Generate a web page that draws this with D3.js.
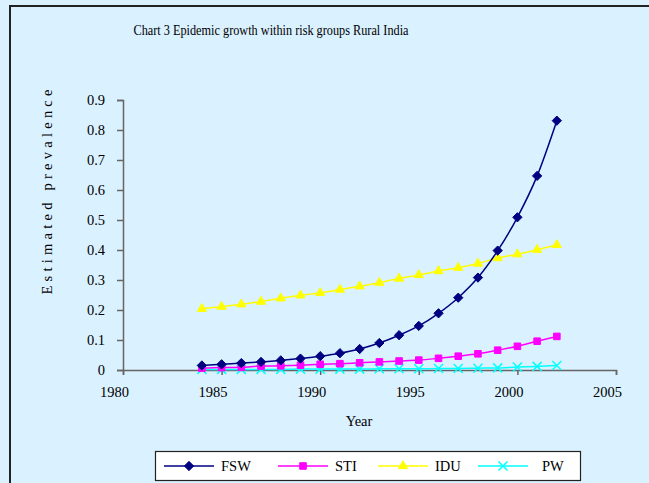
<!DOCTYPE html>
<html>
<head>
<meta charset="utf-8">
<script src="https://cdn.jsdelivr.net/npm/d3@7"></script>
<style>
  body { margin: 0; background: #daf1ff; }
  svg { display: block; }
  svg text { font-family: "Liberation Serif", "Times New Roman", serif !important; fill: #000; }
</style>
</head>
<body>
<div id="chart"></div>
<script>
var years = d3.range(1984, 2003);
var fsw = [0.015, 0.019, 0.023, 0.027, 0.032, 0.038, 0.046, 0.056, 0.07, 0.09, 0.116, 0.147, 0.189, 0.241, 0.308, 0.398, 0.509, 0.647, 0.831];
var sti = [0.006, 0.008, 0.009, 0.013, 0.014, 0.016, 0.019, 0.021, 0.024, 0.027, 0.03, 0.033, 0.039, 0.046, 0.054, 0.066, 0.079, 0.096, 0.112];
var idu = [0.204, 0.211, 0.219, 0.228, 0.239, 0.249, 0.257, 0.268, 0.279, 0.291, 0.305, 0.317, 0.33, 0.341, 0.355, 0.373, 0.386, 0.401, 0.417];
var pw = [0.002, 0.002, 0.002, 0.002, 0.002, 0.003, 0.003, 0.003, 0.003, 0.004, 0.004, 0.004, 0.005, 0.005, 0.006, 0.007, 0.01, 0.012, 0.015];
var seriesNames = ["FSW", "STI", "IDU", "PW"];
var xTicks = [1980, 1985, 1990, 1995, 2000, 2005];
var yTicks = [0, 0.1, 0.2, 0.3, 0.4, 0.5, 0.6, 0.7, 0.8, 0.9];

var width = 649,
    height = 483;

var series = [
  { name: seriesNames[0], values: fsw, color: "#000080", symbol: "diamond" },
  { name: seriesNames[1], values: sti, color: "#ff00ff", symbol: "square" },
  { name: seriesNames[2], values: idu, color: "#ffff00", symbol: "triangle" },
  { name: seriesNames[3], values: pw, color: "#00ffff", symbol: "cross" }
];

var svg = d3.select("#chart")
  .append("svg")
  .attr("width", width)
  .attr("height", height);

// outer chart frame (cut off at right and bottom)
svg.append("rect")
  .attr("x", 10).attr("y", 6)
  .attr("width", width + 10).attr("height", height + 10)
  .attr("fill", "#daf1ff")
  .attr("stroke", "#222")
  .attr("stroke-width", 2);

svg.append("text")
  .attr("x", 271).attr("y", 35)
  .attr("text-anchor", "middle")
  .attr("font-size", 14.5)
  .attr("textLength", 275)
  .attr("lengthAdjust", "spacingAndGlyphs")
  .text("Chart 3 Epidemic growth within risk groups Rural India");

var x = d3.scaleLinear().domain([1980, 2005]).range([123, 616]);
var y = d3.scaleLinear().domain([0, 0.9]).range([370, 100]);

var axisColor = "#666";

var yAxis = svg.append("g")
  .attr("transform", "translate(123,0)")
  .call(d3.axisLeft(y).tickValues(yTicks).tickSize(6).tickPadding(12)
    .tickFormat(function(d) { return d === 0 ? "0" : d3.format(".1f")(d); }));

var xAxis = svg.append("g")
  .attr("transform", "translate(0,370)")
  .call(d3.axisBottom(x).tickValues(xTicks).tickSize(5).tickPadding(12)
    .tickFormat(d3.format("d")));

[xAxis, yAxis].forEach(function(a) {
  a.attr("font-family", null).attr("font-size", null);
  a.select(".domain").attr("stroke", axisColor).attr("stroke-width", 1.5);
  a.selectAll(".tick line").attr("stroke", axisColor).attr("stroke-width", 1.5);
  a.selectAll(".tick text")
    .style("font-size", "14.5px")
    .attr("fill", "#000");
});
xAxis.selectAll(".tick text").attr("dx", -9);

svg.append("text")
  .attr("x", 359).attr("y", 426)
  .attr("text-anchor", "middle")
  .style("font-size", "14.5px")
  .text("Year");

svg.append("text")
  .attr("transform", "translate(52,192) rotate(-90)")
  .attr("text-anchor", "middle")
  .style("font-size", "14.5px")
  .attr("textLength", 205)
  .attr("lengthAdjust", "spacing")
  .text("Estimated prevalence");

function marker(sel, s) {
  if (s.symbol === "cross") {
    sel.append("path")
      .attr("d", "M-4.5,-4.5L4.5,4.5M-4.5,4.5L4.5,-4.5")
      .attr("stroke", s.color)
      .attr("stroke-width", 1.5)
      .attr("fill", "none");
  } else {
    var type = s.symbol === "diamond" ? d3.symbolDiamond2 :
               s.symbol === "square" ? d3.symbolSquare2 : d3.symbolTriangle2;
    var size = s.symbol === "triangle" ? 60 : 55;
    sel.append("path")
      .attr("d", d3.symbol().type(type).size(size)())
      .attr("fill", s.color)
      .attr("stroke", s.color)
      .attr("stroke-width", 1);
  }
}

var line = d3.line()
  .x(function(d, i) { return x(years[i]); })
  .y(function(d) { return y(d); })
  .curve(d3.curveCatmullRom.alpha(0));

// draw in reverse so FSW lies on top
series.slice().reverse().forEach(function(s) {
  svg.append("path")
    .attr("d", line(s.values))
    .attr("fill", "none")
    .attr("stroke", s.color)
    .attr("stroke-width", 1.5);

  svg.selectAll(null)
    .data(s.values)
    .enter()
    .append("g")
    .attr("transform", function(d, i) { return "translate(" + x(years[i]) + "," + y(d) + ")"; })
    .each(function() { marker(d3.select(this), s); });
});

// legend
var legend = svg.append("g");
legend.append("rect")
  .attr("x", 155.5).attr("y", 451.5)
  .attr("width", 425).attr("height", 29)
  .attr("fill", "#fff")
  .attr("stroke", "#222")
  .attr("stroke-width", 1.2);

var legendX = [164, 278, 378, 478];
series.forEach(function(s, i) {
  var g = legend.append("g").attr("transform", "translate(" + legendX[i] + ",466)");
  g.append("line")
    .attr("x1", 0).attr("x2", 50)
    .attr("stroke", s.color)
    .attr("stroke-width", 1.5);
  var m = g.append("g").attr("transform", "translate(25,0)");
  marker(m, s);
  g.append("text")
    .attr("x", i === 3 ? 64 : 57)
    .attr("y", 5)
    .style("font-size", "14.5px")
    .text(s.name);
});
</script>
</body>
</html>
